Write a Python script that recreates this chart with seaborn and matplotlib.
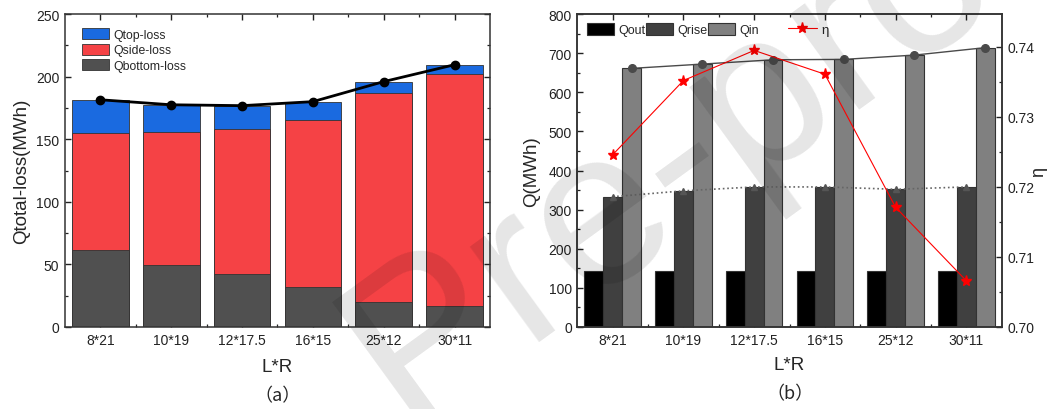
import numpy as np
import pandas as pd
import matplotlib
matplotlib.use("Agg")
import matplotlib.pyplot as plt
from matplotlib.ticker import MultipleLocator, FixedLocator, FormatStrFormatter
from matplotlib.patches import Patch
from matplotlib.lines import Line2D
import seaborn as sns

# ---- data -------------------------------------------------------------
categories = ["8*21", "10*19", "12*17.5", "16*15", "25*12", "30*11"]

# (a) heat-loss components, MWh
q_bottom = [61.5, 49.8, 42.0, 31.7, 20.2, 16.8]
q_side = [93.2, 105.7, 116.1, 133.9, 166.7, 185.0]
q_top = [26.8, 22.0, 18.7, 14.4, 9.1, 7.7]

# (b) energy balance, MWh, and efficiency
q_out = [144, 144, 144, 144, 144, 144]
q_rise = [333, 348, 358, 358, 352, 358]
q_in = [661, 672, 683, 684, 695, 714]
eta = [0.7246, 0.7352, 0.7395, 0.7361, 0.7171, 0.7066]

# ---- style ------------------------------------------------------------
sns.set_style("ticks")
plt.rcParams["font.family"] = ["Liberation Sans", "DejaVu Sans"]
plt.rcParams["axes.linewidth"] = 1.1
plt.rcParams["axes.edgecolor"] = "#333333"

C_TOP, C_SIDE, C_BOT = "#1a6ae0", "#f54245", "#505050"
C_OUT, C_RISE, C_IN = "#000000", "#404040", "#808080"
EDGE = "#333333"
CJK = ["Noto Sans CJK SC", "DejaVu Sans"]

fig = plt.figure(figsize=(10.51, 4.10), dpi=100)
axL = fig.add_axes([0.0618, 0.200, 0.4044, 0.7634])
axR = fig.add_axes([0.5493, 0.200, 0.4038, 0.7634])


def style_ticks(ax, right=True):
    ax.tick_params(which="both", direction="in", top=True, right=right,
                   labelsize=10, colors="#222222", pad=4)
    ax.tick_params(which="major", length=4, width=1.0)
    ax.tick_params(which="minor", length=2.5, width=0.9)
    ax.xaxis.set_minor_locator(FixedLocator(np.arange(0.5, len(categories) - 1, 1)))


# ---- (a) stacked heat losses ------------------------------------------
bottom_arr = np.array(q_bottom)
side_cum = bottom_arr + np.array(q_side)
total = side_cum + np.array(q_top)

for vals, col in [(total, C_TOP), (side_cum, C_SIDE), (bottom_arr, C_BOT)]:
    sns.barplot(x=categories, y=vals, color=col, saturation=1, width=0.8,
                edgecolor=EDGE, linewidth=0.6, ax=axL, zorder=2)

centersL = [b.get_x() + b.get_width() / 2 for b in axL.containers[0]]
axL.plot(centersL, total, "-o", color="black", lw=2.0, ms=6, zorder=5)

axL.set_xlim(-0.5, len(categories) - 0.5)
axL.set_ylim(0, 250)
axL.yaxis.set_major_locator(MultipleLocator(50))
axL.yaxis.set_minor_locator(MultipleLocator(25))
style_ticks(axL)
axL.set_xlabel("L*R", fontsize=13.5, labelpad=8)
axL.set_ylabel("Qtotal-loss(MWh)", fontsize=13.5, labelpad=4)
axL.text(0.5, -0.2195, "（a）", transform=axL.transAxes, ha="center", va="center",
         fontsize=13, family=CJK)

hL = [Patch(facecolor=C_TOP, edgecolor=EDGE, lw=0.6, label="Qtop-loss"),
      Patch(facecolor=C_SIDE, edgecolor=EDGE, lw=0.6, label="Qside-loss"),
      Patch(facecolor=C_BOT, edgecolor=EDGE, lw=0.6, label="Qbottom-loss")]
axL.legend(handles=hL, loc="upper left", bbox_to_anchor=(0.041, 0.955),
           frameon=False, fontsize=8.8, borderpad=0, borderaxespad=0,
           handlelength=2.2, handleheight=1.05, handletextpad=0.35,
           labelspacing=0.22)

# ---- (b) energy balance and efficiency --------------------------------
df = pd.DataFrame({
    "L*R": categories * 3,
    "Q": q_out + q_rise + q_in,
    "series": ["Qout"] * 6 + ["Qrise"] * 6 + ["Qin"] * 6,
})
palette = {"Qout": C_OUT, "Qrise": C_RISE, "Qin": C_IN}
sns.barplot(data=df, x="L*R", y="Q", hue="series", palette=palette,
            saturation=1, width=0.8, edgecolor=EDGE, linewidth=0.8,
            legend=False, ax=axR, zorder=2)

cont_out, cont_rise, cont_in = axR.containers[:3]
x_rise = [b.get_x() + b.get_width() / 2 for b in cont_rise]
x_in = [b.get_x() + b.get_width() / 2 for b in cont_in]

axR.plot(x_in, q_in, "-o", color="#4a4a4a", lw=1.0, ms=5.5, zorder=5)
axR.plot(x_rise, q_rise, ":", color="#666666", lw=1.2, zorder=5)
axR.plot(x_rise, q_rise, "^", color="#555555", ms=5, zorder=5)

axR.set_xlim(-0.5, len(categories) - 0.5)
axR.set_ylim(0, 800)
axR.yaxis.set_major_locator(MultipleLocator(100))
axR.yaxis.set_minor_locator(MultipleLocator(50))
style_ticks(axR, right=False)
axR.set_xlabel("L*R", fontsize=13.5, labelpad=7)
axR.set_ylabel("Q(MWh)", fontsize=13.5, labelpad=6)
axR.text(0.5, -0.2115, "（b）", transform=axR.transAxes, ha="center", va="center",
         fontsize=13, family=CJK)

axE = axR.twinx()
axE.plot(x_rise, eta, "-*", color="red", lw=0.8, ms=8, zorder=6)
axE.set_ylim(0.70, 0.7447)
axE.yaxis.set_major_locator(MultipleLocator(0.01))
axE.yaxis.set_minor_locator(MultipleLocator(0.005))
axE.yaxis.set_major_formatter(FormatStrFormatter("%.2f"))
axE.tick_params(which="both", direction="in", labelsize=10, colors="#222222", pad=4)
axE.tick_params(which="major", length=4, width=1.0)
axE.tick_params(which="minor", length=2.5, width=0.9)
axE.set_ylabel("η", fontsize=13)
axE.yaxis.set_label_coords(1.066, 0.5)

hR = [Patch(facecolor=C_OUT, edgecolor=EDGE, lw=0.8, label="Qout"),
      Patch(facecolor=C_RISE, edgecolor=EDGE, lw=0.8, label="Qrise"),
      Patch(facecolor=C_IN, edgecolor=EDGE, lw=0.8, label="Qin")]
legQ = axE.legend(handles=hR, loc="upper left", bbox_to_anchor=(0.022, 0.97),
                  ncol=3, frameon=False, fontsize=9, borderpad=0,
                  borderaxespad=0, handlelength=2.2, handleheight=1.05,
                  handletextpad=0.3, columnspacing=0.05)
axE.add_artist(legQ)
legE = Line2D([], [], color="red", lw=0.8, marker="*", ms=8, label="η")
axE.legend(handles=[legE], loc="upper left", bbox_to_anchor=(0.496, 0.97),
           frameon=False, fontsize=9.5, borderpad=0, borderaxespad=0,
           handlelength=2.2, handletextpad=0.35)

# ---- watermark ---------------------------------------------------------
fig.text(0.385, -0.04, "Pre-proof", rotation=36, rotation_mode="anchor",
         ha="left", va="baseline", fontsize=160, color="black", alpha=0.10,
         family=["Liberation Sans"], zorder=20)

fig.savefig("out.png", dpi=100)
